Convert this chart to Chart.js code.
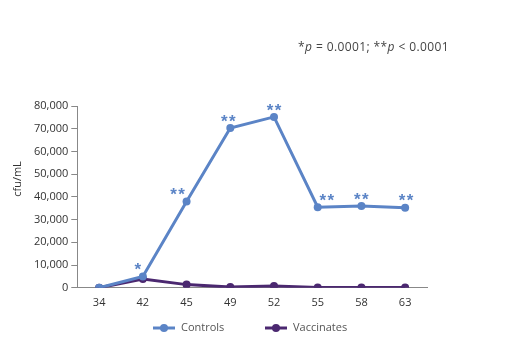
<!DOCTYPE html>
<html>
<head>
<meta charset="utf-8">
<script src="https://cdn.jsdelivr.net/npm/chart.js@4/dist/chart.umd.min.js"></script>
<style>
  html, body { margin: 0; padding: 0; background: #fff; }
  #wrap { position: relative; width: 508px; height: 360px; }
  #note { position: absolute; left: 298px; top: 38px; font-family: "Open Sans", sans-serif; font-size: 12px; letter-spacing: 0.4px; color: #444; white-space: nowrap; }
  #note i { font-style: italic; }
</style>
</head>
<body>
<div id="wrap">
  <canvas id="c" width="508" height="360"></canvas>
  <div id="note">*<i>p</i> = 0.0001; **<i>p</i> &lt; 0.0001</div>
</div>
<script>
const categories = ['34', '42', '45', '49', '52', '55', '58', '63'];
const controls = [0, 5000, 38000, 70300, 75200, 35500, 36000, 35200];
const vaccinates = [0, 3900, 1400, 300, 800, 100, 100, 100];
const significance = ['', '*', '**', '**', '**', '**', '**', '**'];
const yTicks = [0, 10000, 20000, 30000, 40000, 50000, 60000, 70000, 80000];
const yTitle = 'cfu/mL';

const blue = '#5b84c6';
const purple = '#4b2870';
const FONT = '"Open Sans", sans-serif';

const sigPlugin = {
  id: 'sig',
  afterDatasetsDraw(chart, args, opts) {
    const ctx = chart.ctx;
    const meta = chart.getDatasetMeta(0);
    const nudge = opts.nudgeX || [];
    ctx.save();
    ctx.fillStyle = blue;
    ctx.font = 'bold 17px "Liberation Sans", sans-serif';
    ctx.textAlign = 'center';
    ctx.textBaseline = 'middle';
    meta.data.forEach((pt, i) => {
      const s = significance[i];
      if (!s) return;
      const n = s.length, gap = 8;
      const bx = pt.x + (nudge[i] || 0);
      for (let k = 0; k < n; k++) {
        const cx = bx - (n - 1) * gap / 2 + k * gap;
        ctx.fillText('*', cx, pt.y - 6);
      }
    });
    ctx.restore();
  }
};

const extrasPlugin = {
  id: 'extras',
  afterDraw(chart) {
    const ctx = chart.ctx;
    ctx.save();
    ctx.fillStyle = '#333';
    ctx.font = '11px ' + FONT;
    ctx.textAlign = 'center';
    ctx.textBaseline = 'middle';
    ctx.translate(18, 179);
    ctx.rotate(-Math.PI / 2);
    ctx.fillText(yTitle, 0, 0);
    ctx.restore();

    ctx.save();
    const items = chart.data.datasets;
    const starts = [153, 265];
    const y = 328;
    ctx.font = '11px ' + FONT;
    ctx.textBaseline = 'middle';
    ctx.textAlign = 'left';
    items.forEach((ds, i) => {
      const x = starts[i];
      ctx.strokeStyle = ds.borderColor;
      ctx.lineWidth = 3;
      ctx.beginPath(); ctx.moveTo(x, y); ctx.lineTo(x + 22, y); ctx.stroke();
      ctx.fillStyle = ds.borderColor;
      ctx.beginPath(); ctx.arc(x + 11, y, 4, 0, Math.PI * 2); ctx.fill();
      ctx.fillStyle = '#555';
      ctx.fillText(ds.label, x + 28, y);
    });
    ctx.restore();
  }
};

new Chart(document.getElementById('c'), {
  type: 'line',
  data: {
    labels: categories,
    datasets: [
      { label: 'Controls', data: controls, borderColor: blue, backgroundColor: blue, borderWidth: 3, pointRadius: 4, pointBorderWidth: 0, pointHoverRadius: 4, tension: 0 },
      { label: 'Vaccinates', data: vaccinates, borderColor: purple, backgroundColor: purple, borderWidth: 3, pointRadius: 4, pointBorderWidth: 0, pointHoverRadius: 4, tension: 0 }
    ]
  },
  options: {
    responsive: false,
    animation: false,
    devicePixelRatio: 1,
    layout: { padding: { left: 31, right: 81, top: 106, bottom: 43 } },
    plugins: {
      tooltip: { enabled: false },
      legend: { display: false },
      sig: { nudgeX: [0, -5, -9, -2, 0, 9, 0, 1] }
    },
    scales: {
      x: {
        offset: true,
        grid: { display: false, drawTicks: false },
        border: { display: true, color: '#888', width: 1 },
        ticks: { color: '#333', padding: 8, font: { family: FONT, size: 11 } }
      },
      y: {
        min: 0, max: 80000,
        afterBuildTicks(scale) { scale.ticks = yTicks.map(v => ({ value: v })); },
        grid: { drawOnChartArea: false, drawTicks: true, tickLength: 6, color: '#888' },
        border: { display: true, color: '#888', width: 1 },
        ticks: { color: '#333', padding: 3, font: { family: FONT, size: 11 },
          callback: v => v.toLocaleString('en-US') }
      }
    }
  },
  plugins: [sigPlugin, extrasPlugin]
});
</script>
</body>
</html>
